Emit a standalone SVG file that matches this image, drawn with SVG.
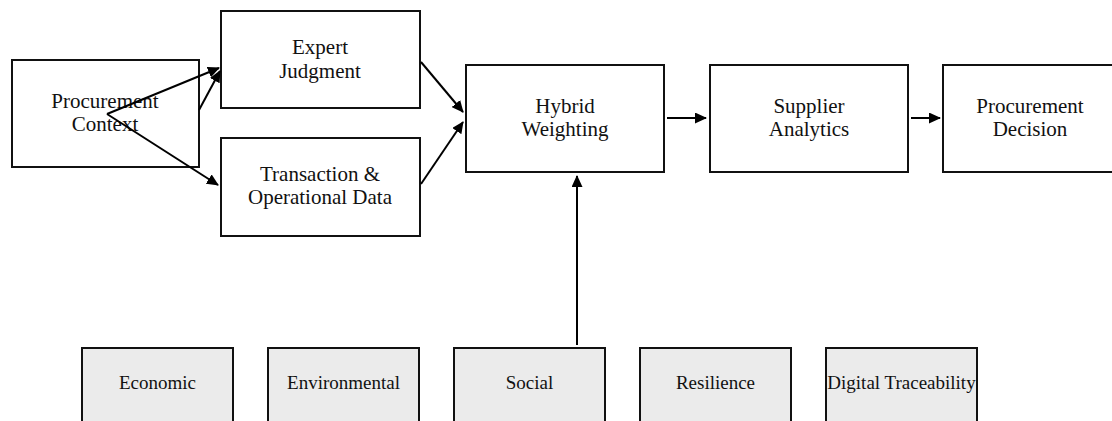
<svg xmlns="http://www.w3.org/2000/svg" width="1112" height="421" viewBox="0 0 1112 421">
<style>
.box{fill:#fff;stroke:#111;stroke-width:2}
.dim{fill:#ebebeb;stroke:#111;stroke-width:2}
text{font-family:"Liberation Serif","Times New Roman",serif;font-size:21px;fill:#111;text-anchor:middle}
.sm{font-size:19px}
.c{stroke:#000;stroke-width:2;fill:none;marker-end:url(#ah)}
</style>
<defs>
<marker id="ah" markerWidth="12" markerHeight="11" refX="11" refY="5.5" orient="auto" markerUnits="userSpaceOnUse">
<path d="M0,0 L12,5.5 L0,11 z" fill="#000"/>
</marker>
</defs>
<rect width="1112" height="421" fill="#fff"/>
<g id="procurement-context"><rect class="box" x="12" y="60" width="187" height="107"/><text x="105" y="108">Procurement</text><text x="105" y="131">Context</text></g>
<g id="expert-judgment"><rect class="box" x="221" y="11" width="199" height="97"/><text x="320" y="54">Expert</text><text x="320" y="78">Judgment</text></g>
<g id="transaction-data"><rect class="box" x="221" y="138" width="199" height="98"/><text x="320" y="181">Transaction &amp;</text><text x="320" y="204">Operational Data</text></g>
<g id="hybrid-weighting"><rect class="box" x="466" y="65" width="198" height="107"/><text x="565" y="113">Hybrid</text><text x="565" y="136">Weighting</text></g>
<g id="supplier-analytics"><rect class="box" x="710" y="65" width="198" height="107"/><text x="809" y="113">Supplier</text><text x="809" y="136">Analytics</text></g>
<g id="procurement-decision"><rect class="box" x="943" y="65" width="176" height="107"/><text x="1030" y="113">Procurement</text><text x="1030" y="136">Decision</text></g>
<g id="economic"><rect class="dim" x="82" y="348" width="151" height="80"/><text class="sm" x="157.5" y="389">Economic</text></g>
<g id="environmental"><rect class="dim" x="268" y="348" width="151" height="80"/><text class="sm" x="343.5" y="389">Environmental</text></g>
<g id="social"><rect class="dim" x="454" y="348" width="151" height="80"/><text class="sm" x="529.5" y="389">Social</text></g>
<g id="resilience"><rect class="dim" x="640" y="348" width="151" height="80"/><text class="sm" x="715.5" y="389">Resilience</text></g>
<g id="digital-traceability"><rect class="dim" x="826" y="348" width="151" height="80"/><text class="sm" x="901.5" y="389">Digital Traceability</text></g>
<g id="connectors">
<line class="c" x1="107" y1="114" x2="219" y2="68"/>
<line class="c" x1="199" y1="110" x2="220" y2="71"/>
<line class="c" x1="107" y1="114" x2="218" y2="185"/>
<line class="c" x1="421" y1="62" x2="463" y2="112"/>
<line class="c" x1="421" y1="184" x2="463" y2="122"/>
<line class="c" x1="667" y1="118" x2="706" y2="118"/>
<line class="c" x1="911" y1="118" x2="940" y2="118"/>
<line class="c" x1="577" y1="345" x2="577" y2="176"/>
</g>
</svg>
